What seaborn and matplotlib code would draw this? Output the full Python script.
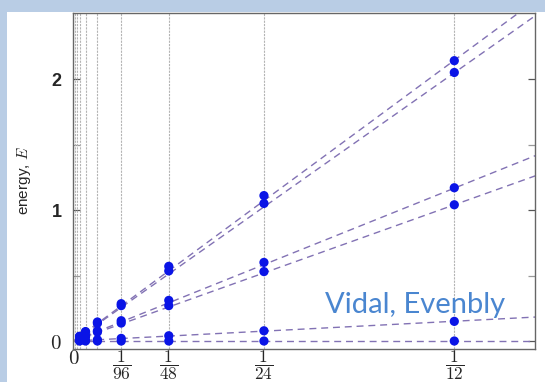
import numpy as np
import pandas as pd
import matplotlib
matplotlib.use("Agg")
import matplotlib.pyplot as plt
import seaborn as sns
from matplotlib.patches import Rectangle

# ---- data ----
sizes = [12, 24, 48, 96, 192, 384, 768]              # x = 1/size
level_names = ["a", "b", "c", "d", "e", "f"]
lev_a = [2.14, 1.11, 0.57, 0.285, 0.145, 0.072, 0.036]
lev_b = [2.05, 1.05, 0.535, 0.27, 0.135, 0.068, 0.034]
lev_c = [1.17, 0.60, 0.31, 0.155, 0.078, 0.039, 0.02]
lev_d = [1.04, 0.53, 0.27, 0.137, 0.068, 0.034, 0.017]
lev_e = [0.15, 0.078, 0.04, 0.02, 0.01, 0.005, 0.003]
lev_f = [0.0, 0.0, 0.0, 0.0, 0.0, 0.0, 0.0]
levels = [lev_a, lev_b, lev_c, lev_d, lev_e, lev_f]

# dashed fit lines: value at x=0 and at x=line_x_end
line_x = [0.0, 0.105]
line_a = [0.0, 2.70]
line_b = [0.0, 2.58]
line_c = [0.0, 1.47]
line_d = [0.0, 1.31]
line_e = [0.0, 0.19]
line_f = [0.0, 0.0]
lines = [line_a, line_b, line_c, line_d, line_e, line_f]

grid_sizes = [12, 24, 48, 96, 192, 384, 768, 1536, 3072]
xtick_sizes = [96, 48, 24, 12]
ytick_vals = [0, 1, 2]
yminor_vals = [0.5, 1.5]

# ---- build tables ----
pts = pd.DataFrame(
    [(1.0 / s, v, n) for n, lev in zip(level_names, levels) for s, v in zip(sizes, lev)],
    columns=["x", "E", "level"],
)
lns = pd.DataFrame(
    [(x, v, n) for n, ln in zip(level_names, lines) for x, v in zip(line_x, ln)],
    columns=["x", "E", "level"],
)

sns.set_theme(style="white")
plt.rcParams["mathtext.fontset"] = "cm"
plt.rcParams["font.family"] = ["Liberation Sans", "DejaVu Sans"]

W, H = 545, 382
fig = plt.figure(figsize=(W / 100, H / 100), dpi=100)
fig.patch.set_facecolor("#b9cde5")
fig.patches.append(Rectangle((7 / W, 0), 1, 1 - 12 / H, transform=fig.transFigure,
                             facecolor="white", edgecolor="none", zorder=0))

ax = fig.add_axes([72.7 / W, 1 - 349 / H, (535 - 72.7) / W, (349 - 13) / H])
ax.set_zorder(2)
ax.set_facecolor("white")

for s in grid_sizes:
    ax.axvline(1.0 / s, color="#b4b4b4", lw=0.8, ls=(0, (2, 1)), zorder=1)

sns.lineplot(data=lns, x="x", y="E", units="level", estimator=None, ax=ax,
             color="#8272b4", lw=1.0, linestyle=(0, (5, 3.5)),
             legend=False, zorder=2)
sns.scatterplot(data=pts, x="x", y="E", ax=ax, color="#0a14e6", s=44,
                marker="o", edgecolor="none", legend=False, zorder=3)

ax.set_xlim(-0.0002, 0.101)
ax.set_ylim(-0.061, 2.504)

ax.set_xticks([0] + [1.0 / s for s in xtick_sizes])
ax.set_xticklabels([r"$\mathbf{0}$"] + [r"$\dfrac{1}{%d}$" % s for s in xtick_sizes],
                   fontsize=12.5)
ax.tick_params(axis="x", length=0, pad=0)
labs = ax.get_xticklabels()
labs[0].set_fontsize(15)

ax.set_yticks(ytick_vals)
ax.set_yticklabels([r"$\mathbf{0}$", "1", "2"], fontsize=13, fontweight="bold")
ax.get_yticklabels()[0].set_fontsize(15)
ax.set_yticks(yminor_vals, minor=True)
ax.tick_params(axis="y", which="both", direction="in", length=5, width=0.9,
               right=True, left=True, color="#555555", pad=8)
ax.tick_params(axis="y", which="minor", color="#999999")

ax.set_xlabel("")
ax.set_ylabel(r"energy, $E$", fontsize=11, labelpad=12)

for sp in ax.spines.values():
    sp.set_color("#666666")
    sp.set_linewidth(1.0)

t = fig.text(505 / W, 1 - 313 / H, "Vidal, Evenbly", color="#4a86d0",
             fontsize=21, family="Lato", ha="right", va="baseline")
t.set_zorder(5)

fig.savefig("out.png", dpi=100)
